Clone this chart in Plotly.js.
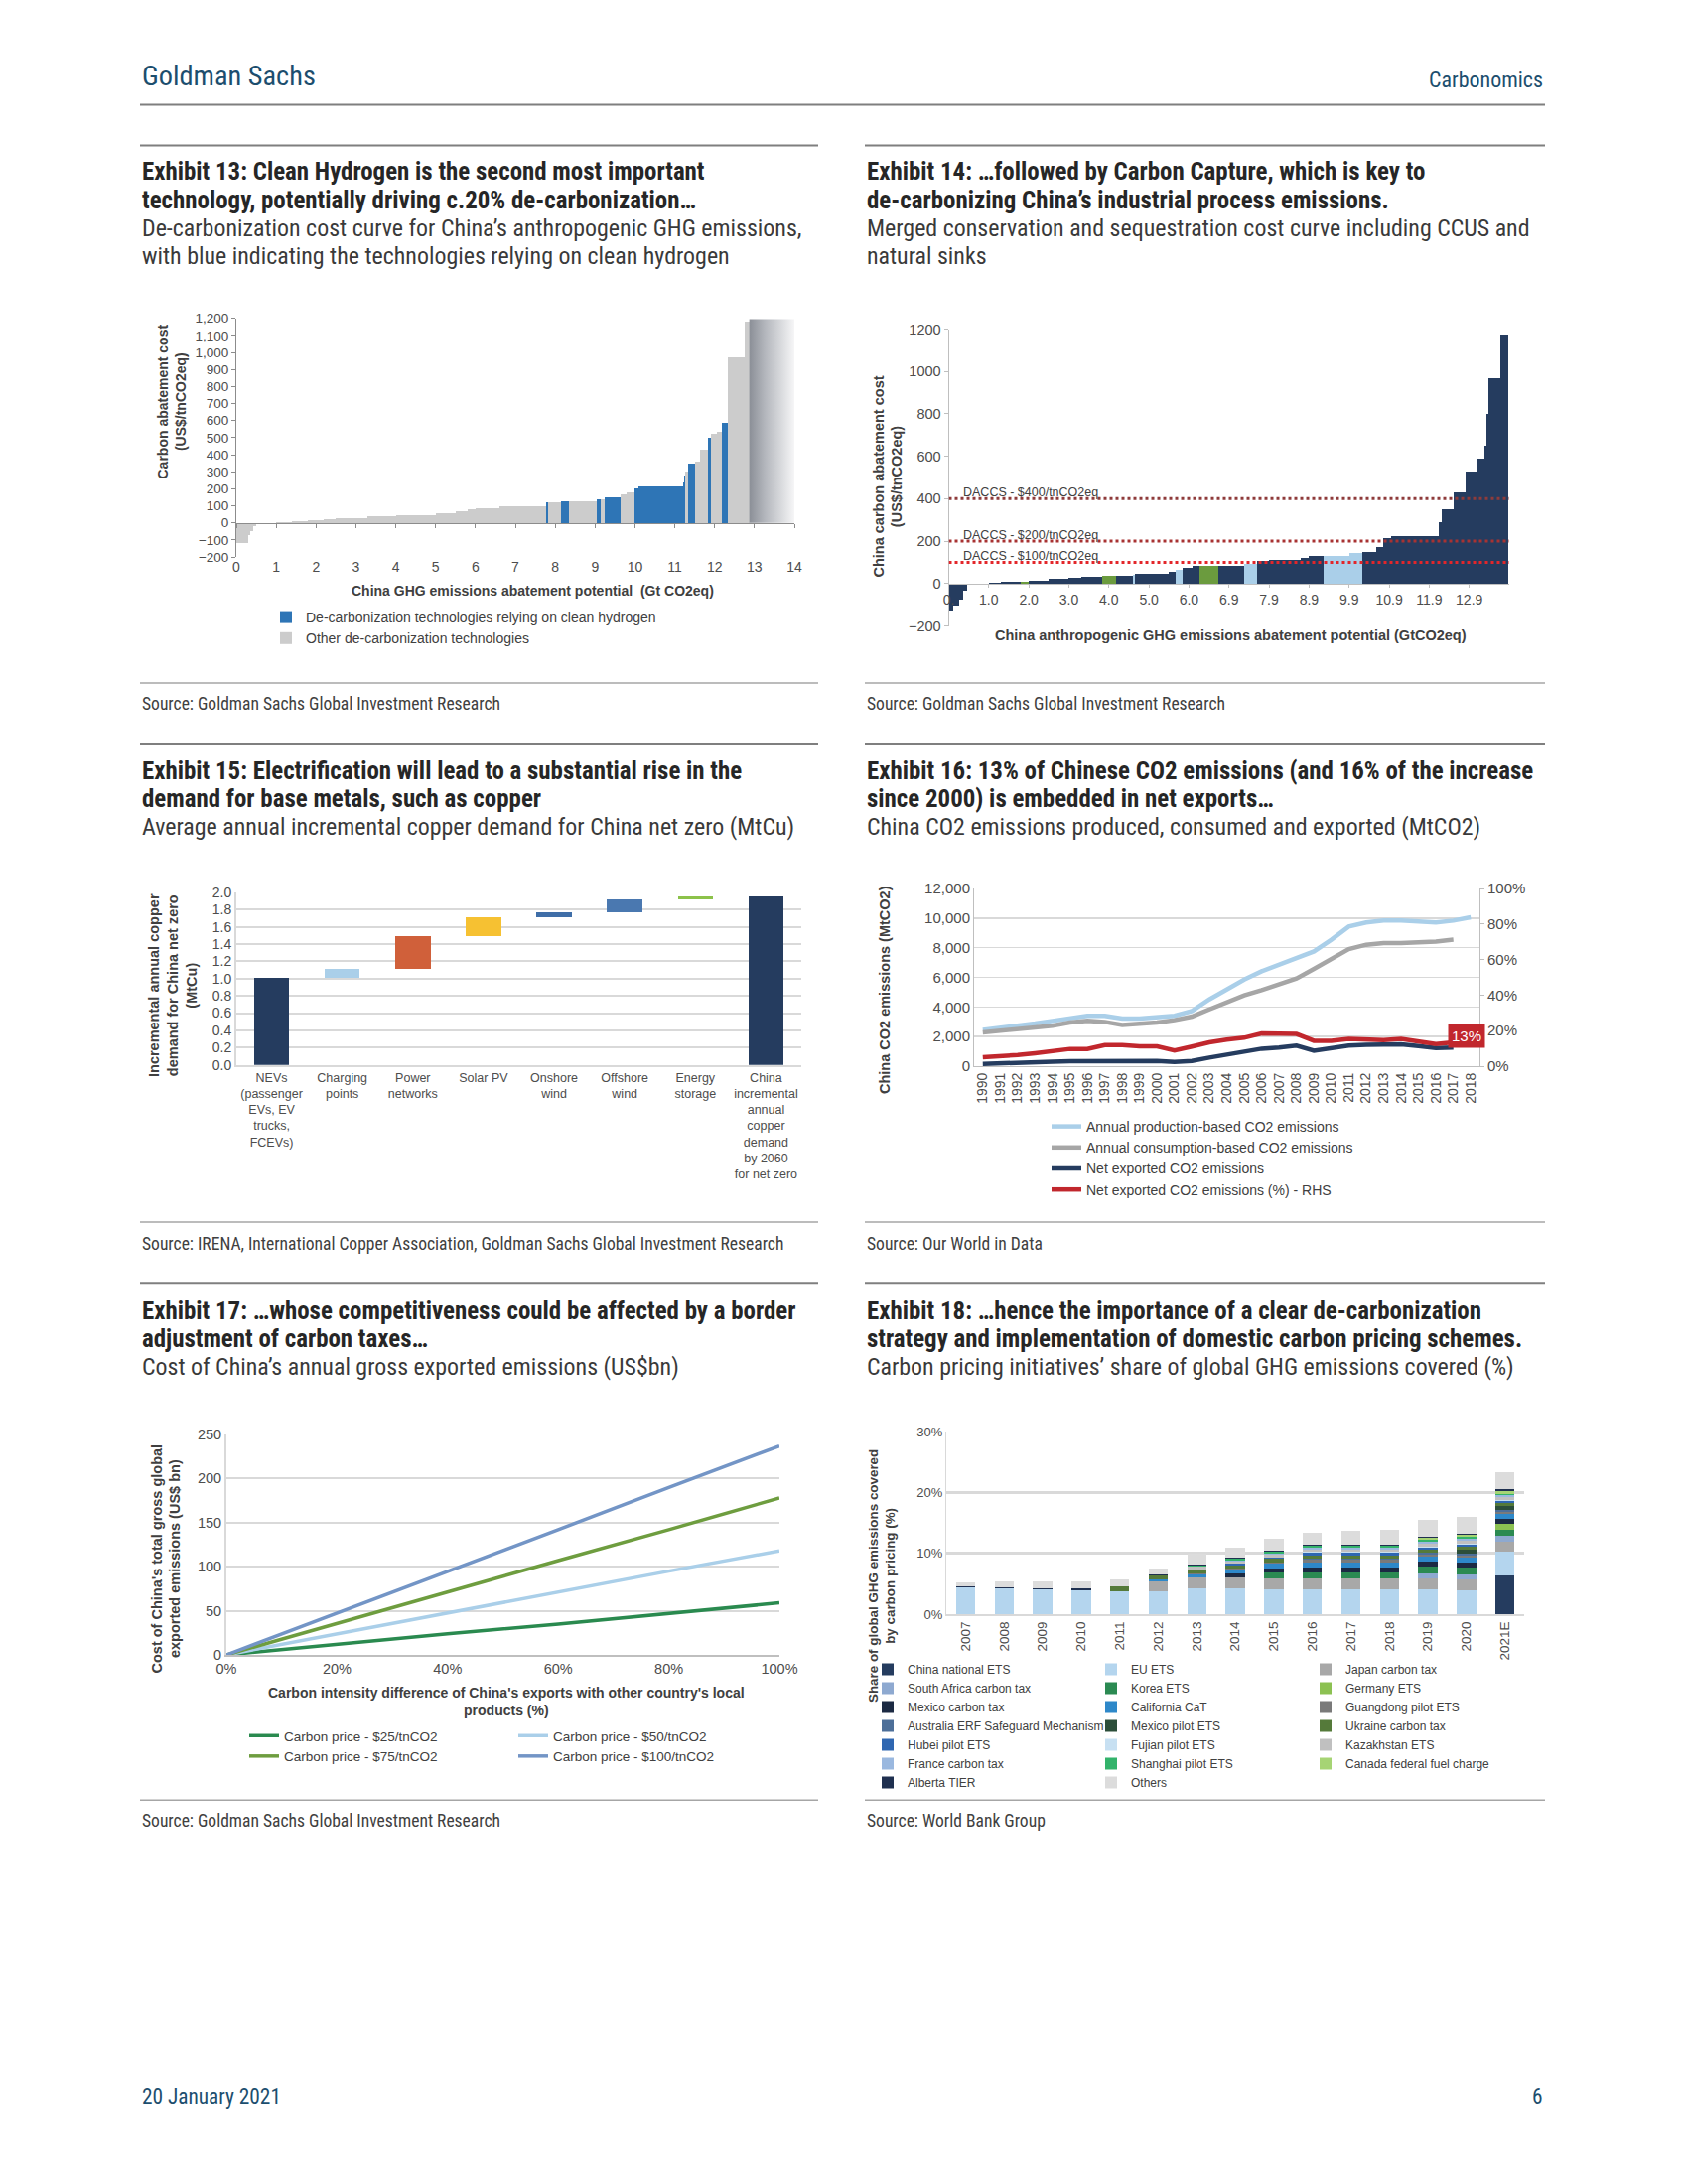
<!DOCTYPE html>
<html>
<head>
<meta charset="utf-8">
<script src="https://cdn.plot.ly/plotly-3.0.1.min.js"></script>
<style>html,body{margin:0;padding:0;background:#ffffff;}</style>
</head>
<body>
<div id="chart" style="width:1700px;height:2200px;"></div>
<script>
// ===================== DATA =====================
// Exhibit 13: cost curve (width = abatement potential Gt, cost = US$/t, type H = hydrogen, O = other, F = faded tail)
const ex13Width = [0.30,0.06,0.07,0.07,0.50,0.40,0.40,0.40,0.30,0.50,0.30,0.70,1.00,0.50,0.30,0.20,0.60,0.20,0.97,0.05,0.33,0.20,0.70,0.08,0.12,0.40,0.15,0.20,0.10,1.10,0.03,0.04,0.06,0.19,0.11,0.21,0.06,0.15,0.12,0.16,0.43,0.11,1.13];
const ex13Cost  = [-120,-70,-50,-20,-4,3,10,15,20,27,30,38,45,58,68,80,88,95,100,118,118,128,128,140,140,148,165,178,200,213,235,275,300,350,362,430,497,522,535,588,970,1180,1195];
const ex13Type  = ['O','O','O','O','O','O','O','O','O','O','O','O','O','O','O','O','O','O','O','H','O','H','O','H','O','H','O','O','H','H','H','H','O','H','O','O','H','O','O','H','O','O','F'];
const ex13XTicks = [0,1,2,3,4,5,6,7,8,9,10,11,12,13,14];
const ex13YTicks = [-200,-100,0,100,200,300,400,500,600,700,800,900,1000,1100,1200];
const ex13Names = ['De-carbonization technologies relying on clean hydrogen','Other de-carbonization technologies'];

// Exhibit 14: merged conservation & sequestration cost curve (N navy, G green, L light blue)
const ex14Width = [0.12,0.13,0.10,0.12,0.53,0.30,0.50,0.20,0.50,0.50,0.30,0.54,0.34,0.42,0.05,0.85,0.17,0.18,0.25,0.16,0.48,0.63,0.34,0.29,0.78,0.22,0.35,0.65,0.32,0.35,0.18,0.19,1.19,0.09,0.28,0.30,0.30,0.18,0.05,0.04,0.31,0.19];
const ex14Cost  = [-128,-105,-75,-35,-5,2,8,10,15,22,28,33,38,38,42,48,55,65,75,82,85,85,95,105,110,120,128,130,145,150,170,215,225,290,350,430,530,590,650,800,970,1175];
const ex14Type  = ['N','N','N','N','N','N','N','G','N','N','N','N','G','N','L','N','N','L','N','N','G','N','L','N','N','N','N','L','L','N','N','N','N','N','N','N','N','N','N','N','N','N'];
const ex14XTickVals = [0,1,2,3,4,5,6,7,8,9,10,11,12,13];
const ex14XTickText = ['0.','1.0','2.0','3.0','4.0','5.0','6.0','6.9','7.9','8.9','9.9','10.9','11.9','12.9'];
const daccsLevels = [400,200,100];
const daccsLabels = ['DACCS - $400/tnCO2eq','DACCS - $200/tnCO2eq','DACCS - $100/tnCO2eq'];

// Exhibit 15: copper demand waterfall (MtCu)
const ex15Categories = ['NEVs<br>(passenger<br>EVs, EV<br>trucks,<br>FCEVs)','Charging<br>points','Power<br>networks','Solar PV','Onshore<br>wind','Offshore<br>wind','Energy<br>storage','China<br>incremental<br>annual<br>copper<br>demand<br>by 2060<br>for net zero'];
const ex15Values = [1.01,0.10,0.38,0.22,0.06,0.15,0.03,1.95];
const ex15IsTotal = [false,false,false,false,false,false,false,true];

// Exhibit 16: China CO2 emissions (MtCO2) and share (%)
const ex16Years = ['1990','1991','1992','1993','1994','1995','1996','1997','1998','1999','2000','2001','2002','2003','2004','2005','2006','2007','2008','2009','2010','2011','2012','2013','2014','2015','2016','2017','2018'];
const ex16Production  = [2440,2570,2730,2880,3060,3220,3400,3400,3220,3220,3330,3400,3730,4510,5180,5850,6410,6860,7310,7750,8540,9430,9700,9830,9830,9740,9700,9830,10060];
const ex16Consumption = [2280,2370,2500,2610,2730,2950,3060,2990,2790,2860,2950,3110,3350,3840,4290,4780,5140,5520,5920,6570,7200,7910,8200,8310,8310,8360,8420,8540,null];
const ex16NetExported = [150,170,200,250,300,330,330,400,380,350,350,290,350,580,800,950,1180,1250,1390,1040,1250,1390,1440,1440,1480,1350,1220,1260,null];
const ex16NetPct      = [5.0,5.4,6.3,7.3,8.8,9.7,9.7,11.9,11.9,11.2,11.2,8.8,11.0,13.4,14.9,16.0,18.4,18.4,18.1,14.3,14.3,15.3,14.7,14.7,15.3,14.0,12.5,13.4,null];
const ex16Names = ['Annual production-based CO2 emissions','Annual consumption-based CO2 emissions','Net exported CO2 emissions','Net exported CO2 emissions (%) - RHS'];
const ex16LastLabel = '13%';

// Exhibit 17: cost of exported emissions (US$bn)
const ex17X    = [0,0.2,0.4,0.6,0.8,1.0];
const ex17P25  = [0,12,24,35,47,59];
const ex17P50  = [0,24,47,71,95,118];
const ex17P75  = [0,36,71,107,142,178];
const ex17P100 = [0,47,95,142,190,237];
const ex17Names = ['Carbon price - $25/tnCO2','Carbon price - $50/tnCO2','Carbon price - $75/tnCO2','Carbon price - $100/tnCO2'];

// Exhibit 18: share of global GHG emissions covered (%)
const ex18Years = ['2007','2008','2009','2010','2011','2012','2013','2014','2015','2016','2017','2018','2019','2020','2021E'];
const chinaNationalETS = [0,0,0,0,0,0,0,0,0,0,0,0,0,0,6.3];
const euETS            = [4.4,4.25,4.1,3.95,3.8,3.75,4.3,4.2,4.1,4.0,4.0,4.0,4.0,3.9,4.0];
const japanTax         = [0,0,0,0,0,1.6,1.8,1.8,1.7,1.8,1.8,1.8,1.8,1.8,1.6];
const southAfricaTax   = [0,0,0,0,0,0,0,0,0,0,0,0,0.9,0.9,0.9];
const koreaETS         = [0,0,0,0,0,0,0,0,1.0,1.1,1.1,1.1,1.1,1.1,1.1];
const germanyETS       = [0,0,0,0,0,0,0,0,0,0,0,0,0,0,0.9];
const mexicoTax        = [0,0,0,0,0,0,0,0.7,0.7,0.8,0.8,0.8,0.8,0.8,0.8];
const californiaCaT    = [0,0,0,0,0,0.3,0.35,0.45,0.75,0.85,0.85,0.85,0.85,0.85,0.9];
const guangdongETS     = [0,0,0,0,0,0,0.3,0.3,0.3,0.35,0.35,0.35,0.35,0.35,0.35];
const australiaERF     = [0,0,0,0,0,0,0,0,0,0.3,0.3,0.3,0.3,0.3,0.3];
const mexicoPilotETS   = [0,0,0,0,0,0,0,0,0,0,0,0,0,0.6,0.6];
const ukraineTax       = [0,0,0,0,0.7,0.7,0.6,0.55,0.5,0.5,0.5,0.5,0.5,0.5,0.5];
const hubeiETS         = [0,0,0,0,0,0,0,0.3,0.3,0.35,0.35,0.35,0.35,0.35,0.35];
const fujianETS        = [0,0,0,0,0,0,0,0,0,0.2,0.2,0.2,0.2,0.2,0.2];
const kazakhstanETS    = [0,0,0,0,0,0,0.4,0.4,0.4,0.4,0.4,0.4,0.4,0.4,0.4];
const franceTax        = [0,0,0,0,0,0,0,0.1,0.2,0.3,0.3,0.3,0.3,0.3,0.3];
const shanghaiETS      = [0,0,0,0,0,0,0.3,0.3,0.3,0.3,0.3,0.3,0.3,0.3,0.3];
const canadaFuelCharge = [0,0,0,0,0,0,0,0,0,0,0,0,0.4,0.4,0.4];
const albertaTIER      = [0.15,0.2,0.15,0.25,0.1,0.15,0.15,0.15,0.15,0.2,0.2,0.2,0.2,0.2,0.3];
const othersCP         = [0.65,1.0,1.05,1.25,1.05,1.0,1.7,1.75,2.0,1.9,2.2,2.35,2.7,2.75,2.8];
const ex18Names = ['China national ETS','EU ETS','Japan carbon tax','South Africa carbon tax','Korea ETS','Germany ETS','Mexico carbon tax','California CaT','Guangdong pilot ETS','Australia ERF Safeguard Mechanism','Mexico pilot ETS','Ukraine carbon tax','Hubei pilot ETS','Fujian pilot ETS','Kazakhstan ETS','France carbon tax','Shanghai pilot ETS','Canada federal fuel charge','Alberta TIER','Others'];

// ===================== CONDENSED PAGE FONT (fit to the reference text widths) =====================
function measureW(text, family, weight, size, stretch) {
  const s = document.createElement('span');
  s.style.cssText = 'position:absolute;left:-9999px;top:0;visibility:hidden;white-space:nowrap;';
  s.style.fontFamily = family; s.style.fontWeight = weight; s.style.fontSize = size + 'px';
  s.style.fontStretch = stretch || '100%';
  s.textContent = text; document.body.appendChild(s);
  const w = s.getBoundingClientRect().width; s.remove(); return w;
}
function available(fam) {
  const t = 'abcdefghijklmnopqrstuvwxyz ABCDEFGHXYZ 0123456789';
  return ['monospace', 'serif'].some(b => Math.abs(measureW(t, '"' + fam + '", ' + b, 400, 40) - measureW(t, b, 400, 40)) > 0.5);
}
let PAGE_FAM = null, STRETCHABLE = false;
for (const f of ['Liberation Sans Narrow', 'Arial Narrow', 'Roboto Condensed', 'Noto Sans Condensed', 'Open Sans Condensed', 'DejaVu Sans Condensed']) {
  if (available(f)) { PAGE_FAM = f; break; }
}
if (!PAGE_FAM) {
  for (const f of ['Noto Sans', 'Open Sans', 'Roboto', 'Inter', 'Lato', 'DejaVu Sans']) {
    if (!available(f)) continue;
    const fam = '"' + f + '"';
    const t = 'Exhibit 13: Clean Hydrogen';
    if (measureW(t, fam, 700, 25, '70%') < 0.95 * measureW(t, fam, 700, 25, '100%')) { PAGE_FAM = f; STRETCHABLE = true; break; }
  }
}
if (!PAGE_FAM) PAGE_FAM = 'Liberation Sans';
const pageFonts = {};
const cssRules = [];
function fitClass(key, sample, target, weight, size) {
  const fam = '"' + PAGE_FAM + '"';
  let st = 100;
  if (STRETCHABLE) {
    let lo = 50, hi = 100;
    for (let k = 0; k < 14; k++) { const mid = (lo + hi) / 2; if (measureW(sample, fam, weight, size, mid + '%') > target) hi = mid; else lo = mid; }
    st = (lo + hi) / 2;
  }
  const w = measureW(sample, fam, weight, size, st + '%');
  const sz = size * target / w;
  pageFonts[key] = {family: fam + ', "zz' + key + '", sans-serif', size: sz};
  if (STRETCHABLE) cssRules.push('text[style*="zz' + key + '"]{font-stretch:' + st.toFixed(2) + '% !important;}');
}
fitClass('title', 'Exhibit 13: Clean Hydrogen is the second most important', 567, 700, 25.5);
fitClass('sub', 'De-carbonization cost curve for China’s anthropogenic GHG emissions,', 665, 400, 25);
fitClass('src', 'Source: Goldman Sachs Glob', 200, 400, 23);
fitClass('gs', 'Goldman Sachs', 175, 400, 28);
fitClass('carb', 'Carbonomics', 115, 400, 22);
fitClass('foot', '20 January 2021', 140, 400, 22);
if (cssRules.length) { const st = document.createElement('style'); st.textContent = cssRules.join('\n'); document.head.appendChild(st); }

// ===================== STYLE / LAYOUT HELPERS =====================
const W = 1700, H = 2200;
const fx = p => p / W;
const fy = p => 1 - p / H;
const ARIAL = '"Liberation Sans", Arial, sans-serif';
const TXT = '#404040';
const TICK = '#4d4d4d';
const TEAL = '#1c4e6e';

const ex13Colors = {H:'#2e75b6', O:'#cccccc'};
const ex14Colors = {N:'#253c5f', G:'#6b9b3e', L:'#aacfe9'};
const ex15Colors = ['#253c5f','#aacfe9','#d0603a','#f6c132','#3f6ea8','#4a78b0','#8cc24a','#253c5f'];
const ex16Colors = ['#aacfe9','#a6a6a6','#253c5f','#c1272d'];
const ex17Colors = ['#2a8a4f','#aacfe9','#6e9d3f','#7395c6'];
const ex18Colors = ['#253c5f','#b4d5ee','#a8a8a8','#8ea9d0','#2b8a52','#8cc152','#1c2a43','#2e88c9','#7a7a7a','#4d6f99','#2c4e3a','#557a3a','#2f67b1','#c7e0f2','#c0c0c0','#9ab8df','#33b36b','#a6d474','#1f3050','#dcdcdc'];

const traces = [];
const annotations = [];
const shapes = [];

// ---------- Exhibit 13 ----------
let acc = 0;
const ex13Start = ex13Width.map(w => { const s = acc; acc += w; return s; });
[['H', ex13Names[0]], ['O', ex13Names[1]]].forEach(([code, name]) => {
  const idx = ex13Type.map((t, i) => t === code ? i : -1).filter(i => i >= 0);
  traces.push({
    type: 'bar', name: name, xaxis: 'x', yaxis: 'y', legend: 'legend',
    x: idx.map(i => ex13Start[i] + ex13Width[i] / 2),
    y: idx.map(i => ex13Cost[i]),
    width: idx.map(i => ex13Width[i]),
    marker: {color: ex13Colors[code], line: {width: 0}},
    hoverinfo: 'skip'
  });
});
ex13Type.forEach((t, i) => {
  if (t !== 'F') return;
  const x0 = ex13Start[i], x1 = ex13Start[i] + ex13Width[i], h = ex13Cost[i];
  traces.push({
    type: 'scatter', mode: 'lines', xaxis: 'x7', yaxis: 'y', showlegend: false, hoverinfo: 'skip',
    x: [x0, x1, x1, x0, x0], y: [0, 0, h, h, 0],
    fill: 'toself', line: {width: 0, color: 'rgba(0,0,0,0)'},
    fillgradient: {type: 'horizontal', colorscale: [[0, '#8b8f97'], [0.35, '#b4b7bd'], [1, '#f6f6f7']]}
  });
});

// ---------- Exhibit 14 ----------
acc = 0;
const ex14Start = ex14Width.map(w => { const s = acc; acc += w; return s; });
traces.push({
  type: 'bar', xaxis: 'x2', yaxis: 'y2', showlegend: false, hoverinfo: 'skip',
  x: ex14Start.map((s, i) => s + ex14Width[i] / 2),
  y: ex14Cost, width: ex14Width,
  marker: {color: ex14Type.map(t => ex14Colors[t]), line: {width: 0}}
});
const daccsColors = ['#8e3b3b', '#a83232', '#e3262a'];
daccsLevels.forEach((lv, i) => {
  shapes.push({type: 'line', xref: 'x2', yref: 'y2', x0: 0, x1: 14, y0: lv, y1: lv,
    line: {color: daccsColors[i], width: 3, dash: 'dot'}});
  annotations.push({xref: 'x2', yref: 'y2', x: 0.32, y: lv, yshift: 6, xanchor: 'left', yanchor: 'middle',
    text: daccsLabels[i], showarrow: false, font: {family: ARIAL, size: 12.5, color: TXT}});
});

// ---------- Exhibit 15 ----------
acc = 0;
const ex15Base = ex15Values.map((v, i) => { if (ex15IsTotal[i]) return 0; const b = acc; acc += v; return b; });
traces.push({
  type: 'bar', xaxis: 'x3', yaxis: 'y3', showlegend: false, hoverinfo: 'skip',
  x: ex15Categories, y: ex15Values, base: ex15Base,
  marker: {color: ex15Colors, line: {width: 0}}
});

// ---------- Exhibit 16 ----------
[ex16Production, ex16Consumption, ex16NetExported, ex16NetPct].forEach((arr, i) => {
  traces.push({
    type: 'scatter', mode: 'lines', name: ex16Names[i], x: ex16Years, y: arr,
    xaxis: 'x4', yaxis: i === 3 ? 'y5' : 'y4', legend: 'legend2',
    line: {color: ex16Colors[i], width: 4.5}, hoverinfo: 'skip', connectgaps: false
  });
});

// ---------- Exhibit 17 ----------
[ex17P25, ex17P50, ex17P75, ex17P100].forEach((arr, i) => {
  traces.push({
    type: 'scatter', mode: 'lines', name: ex17Names[i], x: ex17X, y: arr,
    xaxis: 'x5', yaxis: 'y6', legend: (i % 2 === 0) ? 'legend3' : 'legend4',
    line: {color: ex17Colors[i], width: 3.5}, hoverinfo: 'skip'
  });
});

// ---------- Exhibit 18 ----------
const ex18Series = [chinaNationalETS, euETS, japanTax, southAfricaTax, koreaETS, germanyETS, mexicoTax, californiaCaT, guangdongETS, australiaERF, mexicoPilotETS, ukraineTax, hubeiETS, fujianETS, kazakhstanETS, franceTax, shanghaiETS, canadaFuelCharge, albertaTIER, othersCP];
const ex18Legends = ['legend5', 'legend6', 'legend7'];
ex18Series.forEach((arr, i) => {
  traces.push({
    type: 'bar', name: ex18Names[i], x: ex18Years, y: arr,
    xaxis: 'x6', yaxis: 'y7', legend: ex18Legends[i % 3],
    marker: {color: ex18Colors[i], line: {width: 0}}, hoverinfo: 'skip'
  });
});

// ===================== PAGE TEXT =====================
function txt(x, y, text, font, opts) {
  opts = opts || {};
  annotations.push({
    xref: 'paper', yref: 'paper', x: fx(x), y: fy(y), text: text, showarrow: false,
    xanchor: opts.xanchor || 'left', yanchor: opts.yanchor || 'middle', textangle: opts.angle || 0,
    align: opts.align || 'left',
    font: {family: font.family, size: font.size, color: opts.color || '#333333'}
  });
}
function hline(y, x0, x1, color, width) {
  shapes.push({type: 'line', xref: 'paper', yref: 'paper', x0: fx(x0), x1: fx(x1), y0: fy(y), y1: fy(y),
    line: {color: color, width: width}});
}
const LX0 = 141, LX1 = 824, RX0 = 871, RX1 = 1556;

txt(LX0, 76, 'Goldman Sachs', pageFonts.gs, {color: TEAL});
txt(RX1, 80, 'Carbonomics', pageFonts.carb, {color: TEAL, xanchor: 'right'});
hline(105.5, LX0, RX1, '#7f7f7f', 2);
txt(LX0, 2111, '20 January 2021', pageFonts.foot, {color: TEAL});
txt(RX1, 2111, '6', pageFonts.foot, {color: TEAL, xanchor: 'right'});

const headers = [
  {x: LX0, y: 173, lines: ['<b>Exhibit 13: Clean Hydrogen is the second most important</b>', '<b>technology, potentially driving c.20% de-carbonization…</b>', 'De-carbonization cost curve for China’s anthropogenic GHG emissions,', 'with blue indicating the technologies relying on clean hydrogen']},
  {x: RX0, y: 173, lines: ['<b>Exhibit 14: …followed by Carbon Capture, which is key to</b>', '<b>de-carbonizing China’s industrial process emissions.</b>', 'Merged conservation and sequestration cost curve including CCUS and', 'natural sinks']},
  {x: LX0, y: 776.3, lines: ['<b>Exhibit 15: Electrification will lead to a substantial rise in the</b>', '<b>demand for base metals, such as copper</b>', 'Average annual incremental copper demand for China net zero (MtCu)']},
  {x: RX0, y: 776.3, lines: ['<b>Exhibit 16: 13% of Chinese CO2 emissions (and 16% of the increase</b>', '<b>since 2000) is embedded in net exports…</b>', 'China CO2 emissions produced, consumed and exported (MtCO2)']},
  {x: LX0, y: 1320.5, lines: ['<b>Exhibit 17: …whose competitiveness could be affected by a border</b>', '<b>adjustment of carbon taxes…</b>', 'Cost of China’s annual gross exported emissions (US$bn)']},
  {x: RX0, y: 1320.5, lines: ['<b>Exhibit 18: …hence the importance of a clear de-carbonization</b>', '<b>strategy and implementation of domestic carbon pricing schemes.</b>', 'Carbon pricing initiatives’ share of global GHG emissions covered (%)']}
];
headers.forEach(h => h.lines.forEach((ln, k) =>
  txt(h.x, h.y + k * 28.4, ln, k < 2 ? pageFonts.title : pageFonts.sub, {color: k < 2 ? '#262626' : '#3a3a3a'})));

[[146.5, 688], [749, 1231], [1292.3, 1813.3]].forEach(([top, src]) => {
  hline(top, LX0, LX1, '#7f7f7f', 2); hline(top, RX0, RX1, '#7f7f7f', 2);
  hline(src, LX0, LX1, '#a6a6a6', 1.5); hline(src, RX0, RX1, '#a6a6a6', 1.5);
});
const sources = [
  [LX0, 709, 'Source: Goldman Sachs Global Investment Research'],
  [RX0, 709, 'Source: Goldman Sachs Global Investment Research'],
  [LX0, 1252.5, 'Source: IRENA, International Copper Association, Goldman Sachs Global Investment Research'],
  [RX0, 1252.5, 'Source: Our World in Data'],
  [LX0, 1833.5, 'Source: Goldman Sachs Global Investment Research'],
  [RX0, 1833.5, 'Source: World Bank Group']
];
sources.forEach(s => txt(s[0], s[1], s[2], pageFonts.src, {color: TXT}));

// axis titles (bold Arial)
const AT = {color: TXT, align: 'center', xanchor: 'center'};
const af = s => ({family: ARIAL, size: s});
txt(172.5, 405, '<b>Carbon abatement cost<br>(US$/tnCO2eq)</b>', af(14), Object.assign({angle: -90}, AT));
txt(536, 595, '<b>China GHG emissions abatement potential  (Gt CO2eq)</b>', af(14), AT);
txt(894.5, 480, '<b>China carbon abatement cost<br>(US$/tnCO2eq)</b>', af(14.5), Object.assign({angle: -90}, AT));
txt(1239, 640, '<b>China anthropogenic GHG emissions abatement potential (GtCO2eq)</b>', af(14.5), AT);
txt(174, 993, '<b>Incremental annual copper<br>demand for China net zero<br>(MtCu)</b>', af(14.5), Object.assign({angle: -90}, AT));
txt(891, 997, '<b>China CO2 emissions (MtCO2)</b>', af(14.5), Object.assign({angle: -90}, AT));
txt(166.5, 1570, '<b>Cost of China\'s total gross global<br>exported emissions (US$ bn)</b>', af(14.5), Object.assign({angle: -90}, AT));
txt(510, 1714, '<b>Carbon intensity difference of China\'s exports with other country\'s local<br>products (%)</b>', af(14), AT);
txt(888, 1588, '<b>Share of global GHG emissions covered<br>by carbon pricing (%)</b>', af(13.4), Object.assign({angle: -90}, AT));

// 13% data label on exhibit 16
annotations.push({xref: 'paper', yref: 'paper', x: fx(1476.5), y: fy(1043), text: ex16LastLabel, showarrow: false,
  xanchor: 'center', yanchor: 'middle', bgcolor: '#c1272d', borderpad: 3,
  font: {family: ARIAL, size: 15, color: '#ffffff'}});

// ===================== AXES =====================
const zeroPos = (top, bottom, lo, hi) => fy(top + (hi / (hi - lo)) * (bottom - top));
const tf = (s) => ({family: ARIAL, size: s, color: TICK});
const legendBase = (x, y, s) => ({x: fx(x), y: fy(y), xanchor: 'left', yanchor: 'top', orientation: 'v',
  bgcolor: 'rgba(0,0,0,0)', traceorder: 'normal', font: {family: ARIAL, size: s, color: TXT}});

const layout = {
  width: W, height: H, margin: {l: 0, r: 0, t: 0, b: 0, pad: 0},
  paper_bgcolor: '#ffffff', plot_bgcolor: 'rgba(0,0,0,0)',
  barmode: 'stack', bargap: 0.5, hovermode: false, showlegend: true,
  font: {family: ARIAL, size: 14, color: TXT},
  // Exhibit 13
  xaxis: {domain: [fx(238), fx(800)], range: [0, 14], anchor: 'y', tickvals: ex13XTicks, ticks: '', showline: false,
    showgrid: false, zeroline: false, tickfont: tf(14)},
  xaxis7: {overlaying: 'x', anchor: 'free', position: zeroPos(320.7, 561, -200, 1200), range: [0, 14], tickvals: ex13XTicks,
    ticks: 'outside', ticklen: 4, tickcolor: '#8c8c8c', showline: true, linecolor: '#8c8c8c', linewidth: 1,
    showticklabels: false, showgrid: false, zeroline: false},
  yaxis: {domain: [fy(561), fy(320.7)], range: [-200, 1200], anchor: 'x', tickvals: ex13YTicks, tickformat: ',',
    ticks: 'outside', ticklen: 4, tickcolor: '#8c8c8c', showline: true, linecolor: '#8c8c8c', linewidth: 1,
    showgrid: false, zeroline: false, tickfont: tf(13.5)},
  // Exhibit 14
  xaxis2: {domain: [fx(955.5), fx(1520)], range: [0, 14], anchor: 'free', position: zeroPos(331.5, 630.5, -200, 1200),
    tickvals: ex14XTickVals, ticktext: ex14XTickText, ticks: 'outside', ticklen: 3, tickcolor: '#bfbfbf',
    showline: true, linecolor: '#bfbfbf', showgrid: false, zeroline: false, tickfont: tf(14)},
  yaxis2: {domain: [fy(630.5), fy(331.5)], range: [-200, 1200], dtick: 200, anchor: 'x2', ticks: 'outside', ticklen: 4,
    tickcolor: '#bfbfbf', showline: true, linecolor: '#bfbfbf', showgrid: false, zeroline: false, tickfont: tf(14.5)},
  // Exhibit 15
  xaxis3: {domain: [fx(238), fx(807)], type: 'category', anchor: 'y3', showline: true, linecolor: '#d9d9d9', linewidth: 2,
    ticks: '', showgrid: false, tickfont: tf(12.5), tickangle: 0},
  yaxis3: {domain: [fy(1072.7), fy(899)], range: [0, 2], dtick: 0.2, tickformat: '.1f', anchor: 'x3',
    showgrid: true, gridcolor: '#d9d9d9', gridwidth: 2, showline: true, linecolor: '#d9d9d9', linewidth: 2,
    zeroline: false, ticks: '', tickfont: tf(14)},
  // Exhibit 16
  xaxis4: {domain: [fx(981), fx(1490)], type: 'category', range: [-0.5, 28.5], anchor: 'y4', tickangle: -90,
    showline: true, linecolor: '#bfbfbf', ticks: '', showgrid: false, tickfont: tf(14)},
  yaxis4: {domain: [fy(1074), fy(895)], range: [0, 12000], dtick: 2000, tickformat: ',', anchor: 'x4',
    showgrid: true, gridcolor: '#d9d9d9', gridwidth: 1.5, showline: true, linecolor: '#bfbfbf', zeroline: false,
    ticks: '', tickfont: tf(15)},
  yaxis5: {overlaying: 'y4', side: 'right', anchor: 'x4', range: [0, 100], dtick: 20, ticksuffix: '%',
    showgrid: false, showline: true, linecolor: '#bfbfbf', ticks: 'outside', ticklen: 4, tickcolor: '#bfbfbf',
    zeroline: false, tickfont: tf(15)},
  // Exhibit 17
  xaxis5: {domain: [fx(228), fx(785)], range: [0, 1], dtick: 0.2, tickformat: '.0%', anchor: 'y6',
    showline: true, linecolor: '#bfbfbf', linewidth: 2, showgrid: false, zeroline: false, ticks: '', tickfont: tf(14.5)},
  yaxis6: {domain: [fy(1667), fy(1445)], range: [0, 250], dtick: 50, anchor: 'x5', showgrid: true,
    gridcolor: '#d9d9d9', gridwidth: 2, showline: true, linecolor: '#d9d9d9', linewidth: 2, zeroline: false,
    ticks: '', tickfont: tf(14.5)},
  // Exhibit 18
  xaxis6: {domain: [fx(953), fx(1535)], type: 'category', anchor: 'y7', tickangle: -90, showline: true,
    linecolor: '#d9d9d9', linewidth: 2, ticks: '', showgrid: false, tickfont: tf(13.5)},
  yaxis7: {domain: [fy(1626), fy(1442)], range: [0, 30], dtick: 10, ticksuffix: '%', anchor: 'x6',
    showgrid: true, gridcolor: '#d9d9d9', gridwidth: 2.5, showline: true, linecolor: '#d9d9d9', zeroline: false,
    ticks: '', tickfont: tf(13)},
  // Legends
  legend: legendBase(268, 606, 14),
  legend2: legendBase(1054, 1119, 14),
  legend3: legendBase(246, 1733, 13.5),
  legend4: legendBase(517, 1733, 13.5),
  legend5: legendBase(874, 1667, 12),
  legend6: legendBase(1099, 1667, 12),
  legend7: legendBase(1315, 1667, 12),
  annotations: annotations,
  shapes: shapes
};

Plotly.newPlot('chart', traces, layout, {staticPlot: true, displayModeBar: false});
</script>
</body>
</html>
